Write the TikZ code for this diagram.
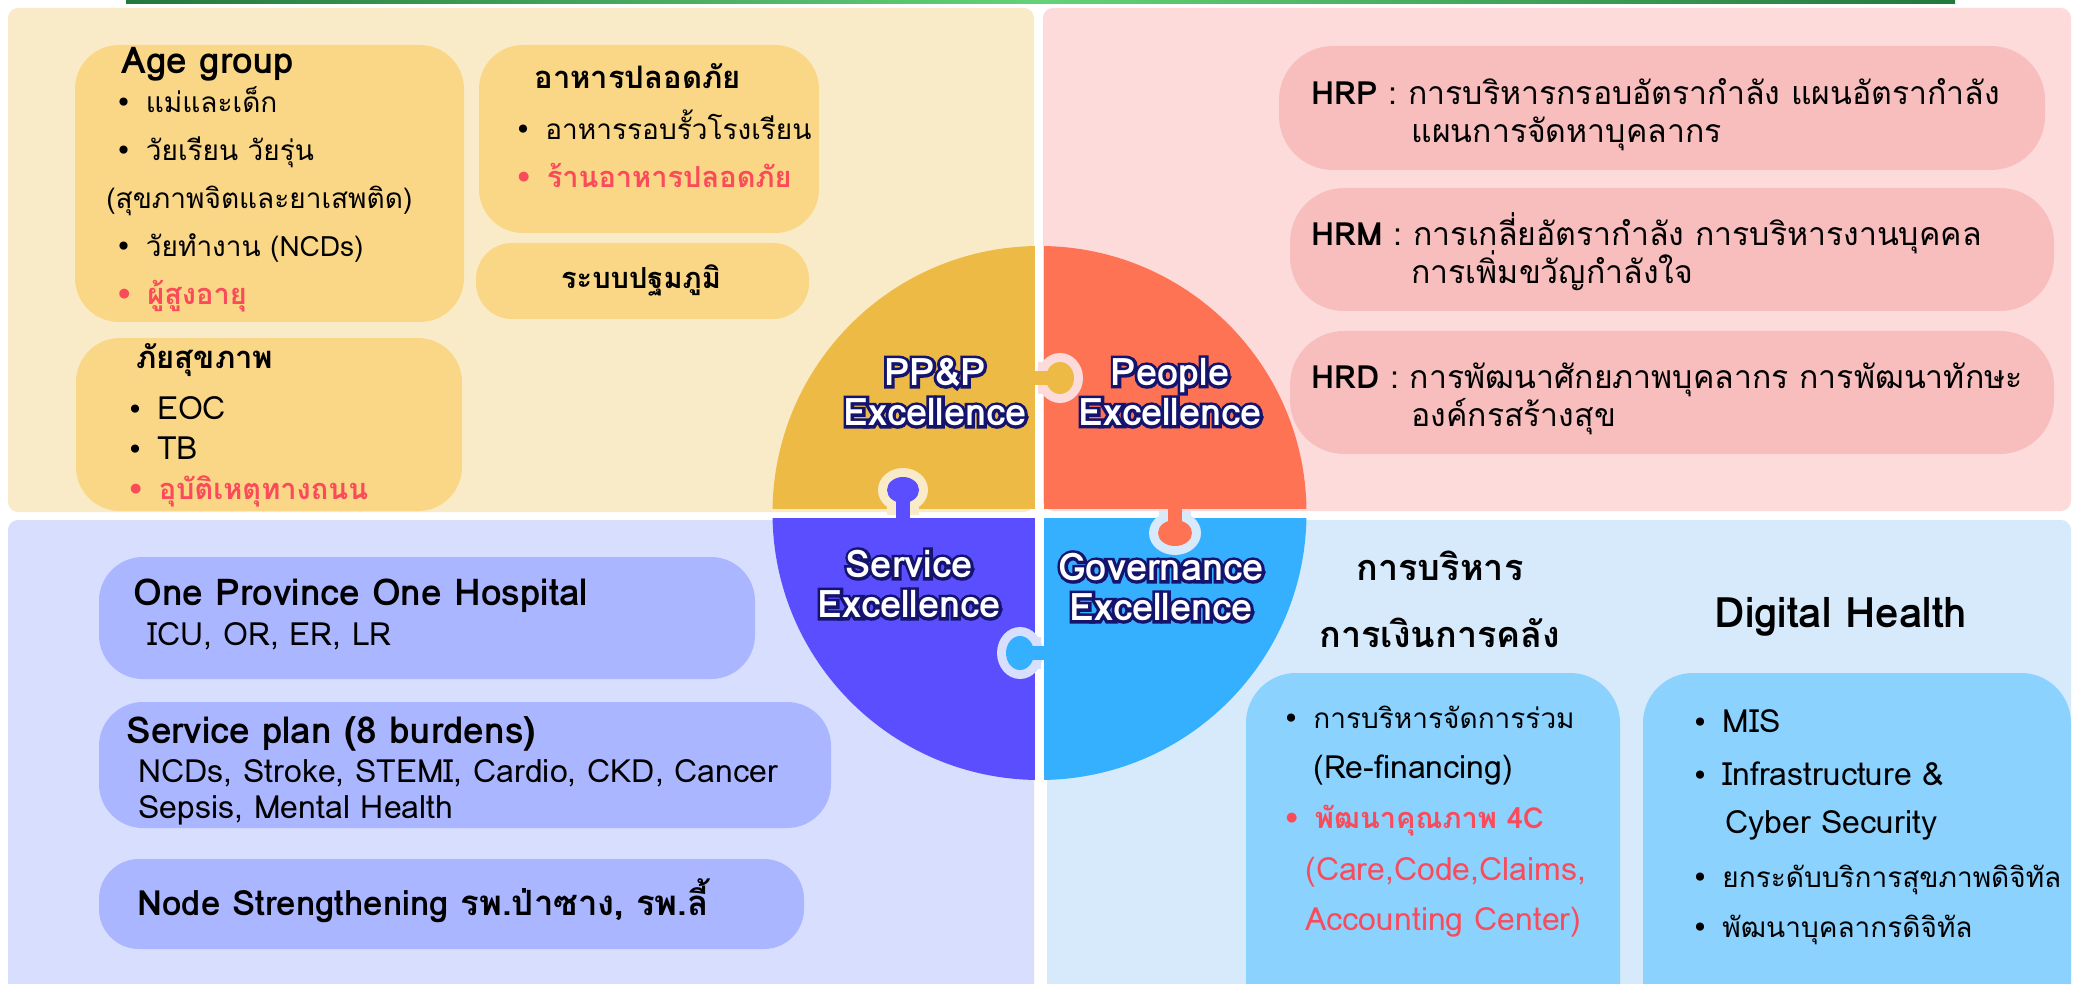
\documentclass[tikz,border=0pt]{standalone}
\usepackage{fontspec}
\setmainfont{Loma}[Script=Thai]
\newfontfamily\dotfont{DejaVu Sans}
\usetikzlibrary{positioning}

% colours
\definecolor{ppbg}{RGB}{250,235,200}
\definecolor{pebg}{RGB}{253,219,219}
\definecolor{sebg}{RGB}{216,222,253}
\definecolor{gobg}{RGB}{214,234,252}
\definecolor{ppbox}{RGB}{250,215,135}
\definecolor{pebox}{RGB}{248,190,190}
\definecolor{sebox}{RGB}{170,182,255}
\definecolor{gobox}{RGB}{140,210,255}
\definecolor{ppfill}{RGB}{237,186,70}
\definecolor{pefill}{RGB}{255,115,85}
\definecolor{sefill}{RGB}{90,78,255}
\definecolor{gofill}{RGB}{53,176,255}
\definecolor{alert}{RGB}{250,75,90}
\definecolor{navy}{RGB}{20,20,110}
\definecolor{barlo}{RGB}{35,120,60}
\definecolor{barhi}{RGB}{100,210,120}

\newcommand{\bul}{{\dotfont\fontsize{14}{16}\selectfont\char"2022}\hspace{7pt}}
% thick navy stroke behind the white piece labels
\newcommand{\fatink}[1]{\special{pdf:literal direct 2 Tr 3 w}#1\special{pdf:literal direct 0 Tr 0.4 w}}

\begin{document}
\begin{tikzpicture}[x=0.5pt,y=-0.5pt,on grid,node distance=24pt,
  panel/.style={rounded corners=5pt},
  box/.style={rounded corners=22pt},
  ln/.style={anchor=base west,inner sep=0pt,font=\fontsize{14}{16}\selectfont},
  lat/.style={ln,font=\fontsize{16}{18}\selectfont},
  hr/.style={ln,font=\fontsize{16}{18}\selectfont},
  hd/.style={ln,font=\bfseries\fontsize{15.5}{18}\selectfont},
  hdl/.style={ln,font=\bfseries\fontsize{18.5}{21}\selectfont},
  hot/.style={text=alert,font=\bfseries\fontsize{14.5}{16}\selectfont},
  big/.style={anchor=base,inner sep=0pt,font=\bfseries\fontsize{18}{22}\selectfont},
  pz/.style={align=center,inner sep=0pt,font=\bfseries\fontsize{19}{20}\selectfont}]
\useasboundingbox (0,0) rectangle (2078,984);
\fill[white] (0,0) rectangle (2078,984);
\shade[left color=barlo,right color=barlo,middle color=barhi] (126,0) rectangle (1955,4);

% four panels
\fill[ppbg,panel] (8,8) rectangle (1034,512);
\fill[pebg,panel] (1043,8) rectangle (2071,511);
\fill[sebg,panel] (8,520) rectangle (1034,1010);
\fill[gobg,panel] (1047,520) rectangle (2071,1010);

% PP&P boxes
\fill[ppbox,box] (75,45) rectangle (464,322);
\fill[ppbox,box] (479,45) rectangle (819,233);
\fill[ppbox,rounded corners=18pt] (476,243) rectangle (809,319);
\fill[ppbox,box] (76,338) rectangle (462,511);

% People boxes
\fill[pebox,rounded corners=27pt] (1279,46) rectangle (2045,170);
\fill[pebox,rounded corners=27pt] (1290,188) rectangle (2054,311);
\fill[pebox,rounded corners=27pt] (1290,331) rectangle (2054,454);

% Service boxes
\fill[sebox,rounded corners=22pt] (99,557) rectangle (755,679);
\fill[sebox,rounded corners=22pt] (99,702) rectangle (831,828);
\fill[sebox,rounded corners=20pt] (99,859) rectangle (804,949);

% Governance boxes
\fill[gobox,rounded corners=25pt] (1246,673) rectangle (1620,1040);
\fill[gobox,rounded corners=25pt] (1643,673) rectangle (2071,1040);

% puzzle circle
\begin{scope}
\clip (1039.5,513) circle[radius=133.5pt];
\fill[ppfill] (700,200) rectangle (1035,509);
\fill[pefill] (1044,200) rectangle (1400,509);
\fill[sefill] (700,518) rectangle (1035,820);
\fill[gofill] (1044,518) rectangle (1400,820);
\end{scope}

% tab rings
\fill[pebg] (1038,362) rectangle (1060,394);
\fill[pebg] (1060,378) ellipse[x radius=11.5pt,y radius=12.5pt];
\fill[ppbg] (887,490) rectangle (919,515);
\fill[ppbg] (903,490) ellipse[x radius=12.5pt,y radius=11pt];
\fill[gobg] (1159,511) rectangle (1191,533);
\fill[gobg] (1175,533) ellipse[x radius=13pt,y radius=11pt];
\fill[sebg] (1020,637) rectangle (1041,669);
\fill[sebg] (1020,653) ellipse[x radius=11.5pt,y radius=13pt];

% tabs
\fill[ppfill] (1030,371) rectangle (1060,385);
\fill[ppfill] (1060,378) ellipse[x radius=7pt,y radius=8pt];
\fill[sefill] (896,490) rectangle (910,522);
\fill[sefill] (903,490) ellipse[x radius=8pt,y radius=6.5pt];
\fill[pefill] (1168,505) rectangle (1182,533);
\fill[pefill] (1175,533) ellipse[x radius=8.5pt,y radius=6.5pt];
\fill[gofill] (1020,646) rectangle (1050,660);
\fill[gofill] (1020,653) ellipse[x radius=7pt,y radius=8.5pt];

% piece labels
\foreach \nm/\cx/\cy/\txt in {ppl/935/392/{PP\&P\\Excellence},
    pel/1170/392/{People\\Excellence},
    sel/909/584/{Service\\Excellence},
    gol/1161/587/{Governance\\Excellence}} {
  \node[pz,text=navy] at (\cx,\cy) {\fatink{\txt}};
  \node[pz,text=white] (\nm) at (\cx,\cy) {\txt};
}

% PP&P texts
\node[hdl] (age) at (121,74) {Age group};
\node[ln] (age1) at (115,113) {\bul แม่และเด็ก};
\node[ln,below=of age1.base west,anchor=base west] (age2) {\bul วัยเรียน วัยรุ่น};
\node[ln,below=of age2.base west,anchor=base west,xshift=-4.5pt] (age3) {(สุขภาพจิตและยาเสพติด)};
\node[ln,below=48pt of age2.base west,anchor=base west] (age4) {\bul วัยทำงาน (NCDs)};
\node[ln,hot,below=of age4.base west,anchor=base west] (age5) {\bul ผู้สูงอายุ};

\node[hd] (food) at (534,89) {อาหารปลอดภัย};
\node[ln] (food1) at (514.5,140) {\bul อาหารรอบรั้วโรงเรียน};
\node[ln,hot,below=of food1.base west,anchor=base west] (food2) {\bul ร้านอาหารปลอดภัย};

\node[hd,font=\bfseries\fontsize{14.5}{18}\selectfont,anchor=base] (pcu) at (641,289) {ระบบปฐมภูมิ};

\node[hd] (risk) at (136,369) {ภัยสุขภาพ};
\node[lat] (risk1) at (126.5,419) {\bul EOC};
\node[lat,below=20pt of risk1.base west,anchor=base west] (risk2) {\bul TB};
\node[ln,hot,below=20pt of risk2.base west,anchor=base west] (risk3) {\bul อุบัติเหตุทางถนน};

% People texts
\node[hr] (hrp) at (1311,105) {\textbf{HRP} : การบริหารกรอบอัตรากำลัง แผนอัตรากำลัง};
\node[hr,below=19pt of hrp.base west,anchor=base west,xshift=50pt] (hrp2) {แผนการจัดหาบุคลากร};
\node[hr] (hrm) at (1311,246) {\textbf{HRM} : การเกลี่ยอัตรากำลัง การบริหารงานบุคคล};
\node[hr,below=19pt of hrm.base west,anchor=base west,xshift=50pt] (hrm2) {การเพิ่มขวัญกำลังใจ};
\node[hr] (hrd) at (1311,388) {\textbf{HRD} : การพัฒนาศักยภาพบุคลากร การพัฒนาทักษะ};
\node[hr,below=19pt of hrd.base west,anchor=base west,xshift=50pt] (hrd2) {องค์กรสร้างสุข};

% Service texts
\node[hdl] (opoh) at (133,605) {One Province One Hospital};
\node[lat] (opoh1) at (147,645) {ICU, OR, ER, LR};
\node[hdl] (splan) at (126,743) {Service plan (8 burdens)};
\node[lat] (splan1) at (138,782) {NCDs, Stroke, STEMI, Cardio, CKD, Cancer};
\node[lat,below=18pt of splan1.base west,anchor=base west] (splan2) {Sepsis, Mental Health};
\node[hdl,font=\bfseries\fontsize{17.4}{21}\selectfont] (nodes) at (137,915) {Node Strengthening รพ.ป่าซาง, รพ.ลี้};

% Governance texts
\node[big] (fin1) at (1440,580) {การบริหาร};
\node[big] (fin2) at (1440,647) {การเงินการคลัง};
\node[big,font=\bfseries\fontsize{21}{24}\selectfont] (dh) at (1841,627) {Digital Health};
\node[ln] (fin3) at (1282.5,728) {\bul การบริหารจัดการร่วม};
\node[lat,below=25pt of fin3.base west,anchor=base west,xshift=15.25pt] (fin4) {(Re-financing)};
\node[ln,hot,below=50pt of fin3.base west,anchor=base west] (fin5) {\bul พัฒนาคุณภาพ 4C};
\node[lat,text=alert,below=26pt of fin5.base west,anchor=base west,xshift=11.25pt] (fin6) {(Care,Code,Claims,};
\node[lat,text=alert,below=25pt of fin6.base west,anchor=base west] (fin7) {Accounting Center)};

\node[lat] (dh1) at (1691.5,732) {\bul MIS};
\node[lat,below=26.5pt of dh1.base west,anchor=base west] (dh2) {\bul Infrastructure \&};
\node[lat,below=24pt of dh2.base west,anchor=base west,xshift=16.75pt] (dh3) {Cyber Security};
\node[ln,below=51pt of dh2.base west,anchor=base west] (dh4) {\bul ยกระดับบริการสุขภาพดิจิทัล};
\node[ln,below=25pt of dh4.base west,anchor=base west] (dh5) {\bul พัฒนาบุคลากรดิจิทัล};
\end{tikzpicture}
\end{document}
